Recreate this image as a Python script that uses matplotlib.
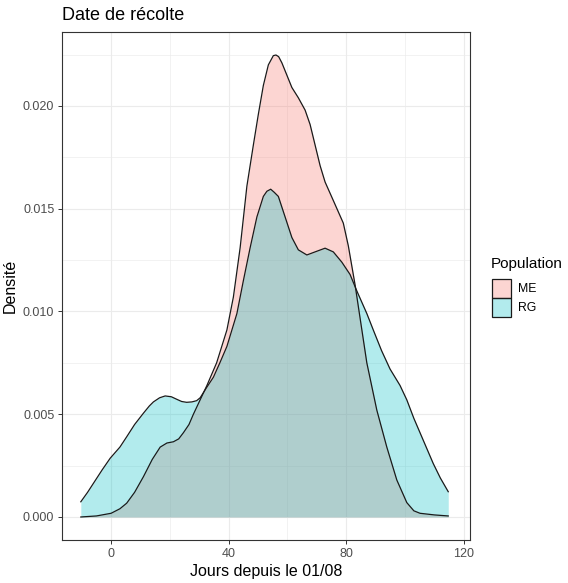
import matplotlib
matplotlib.use("Agg")
import matplotlib.pyplot as plt
from matplotlib.colors import to_rgba
from matplotlib.patches import Patch
from matplotlib.ticker import MultipleLocator

plt.rcParams['font.family'] = ['Liberation Sans', 'DejaVu Sans']

# courbes de densité
me_x = [-10.3, -5, 0, 3, 5.3, 8, 11, 14, 16.7, 19, 21.2, 23, 24.6, 26.5, 28, 30.3,
        32.6, 35.9, 39.4, 41.6, 43.9, 46.2, 48.4, 50.1, 51.8, 53.5, 55.2, 56.1, 57,
        58.1, 59.8, 61.5, 63.7, 66, 67.7, 69.4, 71.1, 72.8, 75.6, 79, 80.7, 83, 85,
        87, 90.4, 93.8, 97.2, 100.6, 103, 105.1, 110, 114.7]
me_y = [0.0, 0.00005, 0.00018, 0.0004, 0.00067, 0.0012, 0.00196, 0.0028, 0.0034,
        0.0036, 0.00366, 0.0038, 0.0041, 0.0045, 0.005, 0.0057, 0.0064, 0.0075,
        0.0091, 0.0107, 0.0131, 0.0161, 0.0181, 0.0196, 0.0210, 0.0220, 0.02245,
        0.02248, 0.0224, 0.0221, 0.0215, 0.0209, 0.0204, 0.0198, 0.0191, 0.0181,
        0.0171, 0.0163, 0.0154, 0.0143, 0.0132, 0.0113, 0.0094, 0.0075, 0.0052,
        0.0034, 0.0018, 0.0007, 0.0003, 0.00018, 0.0001, 0.00005]

rg_x = [-10.3, -8, -6, -3, -0.3, 3, 5.3, 8, 11, 13, 14.4, 16.5, 18.4, 20.5, 22.3,
        24, 25.7, 27.5, 29.1, 30.3, 32.5, 34.8, 37, 39.4, 42.8, 45, 47.3, 49.6, 51.8,
        53, 54.3, 55.5, 56.9, 59.2, 61.5, 63.7, 66.6, 69.4, 72.8, 75.6, 78.5, 81.3,
        83.6, 87, 89.2, 92, 94.9, 98.3, 100.6, 103, 105.1, 107.5, 109.6, 112, 114.7]
rg_y = [0.00074, 0.0012, 0.00164, 0.0023, 0.00286, 0.0034, 0.0039, 0.0045, 0.00505,
        0.0054, 0.0056, 0.0058, 0.00589, 0.00585, 0.00573, 0.00562, 0.00558, 0.0056,
        0.00566, 0.0058, 0.0063, 0.0068, 0.0075, 0.0083, 0.0099, 0.0115, 0.0131,
        0.0146, 0.0156, 0.01585, 0.01595, 0.0158, 0.0156, 0.0146, 0.0136, 0.0130,
        0.01275, 0.0129, 0.01308, 0.0129, 0.0124, 0.0118, 0.0110, 0.0099, 0.0091,
        0.0081, 0.0072, 0.0064, 0.0057, 0.0048, 0.0041, 0.0033, 0.0026, 0.0019,
        0.00123]

groups = ['ME', 'RG']
colors = ['#F8766D', '#00BFC4']
x_ticks = [0, 40, 80, 120]
y_ticks = [0.0, 0.005, 0.010, 0.015, 0.020]

fig = plt.figure(figsize=(5.68, 5.83), dpi=100)
ax = fig.add_axes([62 / 568, 1 - 540 / 583, 408 / 568, 508 / 583])

for (xs, ys), col in zip([(me_x, me_y), (rg_x, rg_y)], colors):
    ax.fill_between(xs, 0, ys, color=col, alpha=0.3, linewidth=0)
    ax.plot(xs, ys, color='#1a1a1a', lw=0.9, solid_joinstyle='round')

ax.set_xlim(-16.7, 122.1)
ax.set_ylim(-0.00112, 0.0236)
ax.set_xticks(x_ticks)
ax.set_yticks(y_ticks)
ax.set_yticklabels(['%.3f' % v for v in y_ticks])
ax.xaxis.set_minor_locator(MultipleLocator(20))
ax.yaxis.set_minor_locator(MultipleLocator(0.0025))
ax.grid(which='major', color='#EBEBEB', lw=0.8)
ax.grid(which='minor', color='#EBEBEB', lw=0.45)
ax.set_axisbelow(True)
ax.tick_params(which='major', length=3, width=0.7, color='#333333',
               labelcolor='#4D4D4D', labelsize=9, pad=2.5)
ax.tick_params(which='minor', length=0)
for s in ax.spines.values():
    s.set_color('#333333')
    s.set_linewidth(0.8)

ax.set_xlabel('Jours depuis le 01/08', fontsize=11.5, labelpad=3)
ax.set_ylabel('Densité', fontsize=11.5, labelpad=4)
fig.text(62 / 568, 1 - 15 / 583, 'Date de récolte', fontsize=13, va='center', ha='left')

# légende : titre à part, clés collées
fig.text(491 / 568, 1 - 264 / 583, 'Population', fontsize=11, va='center', ha='left')
handles = [Patch(facecolor=to_rgba(c, 0.3), edgecolor='#1a1a1a', lw=0.9) for c in colors]
leg = fig.legend(handles, groups, loc='upper left',
                 bbox_to_anchor=(492 / 568, 1 - 279 / 583), frameon=False,
                 fontsize=8.8, handlelength=1.55, handleheight=2.0,
                 labelspacing=0, handletextpad=0.6, borderaxespad=0, borderpad=0)

fig.savefig('out.png', dpi=100)
